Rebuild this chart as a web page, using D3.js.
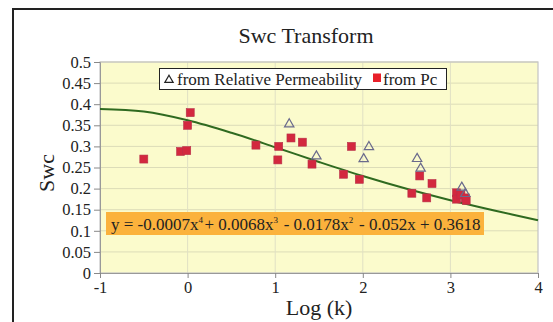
<!DOCTYPE html>
<html>
<head>
<meta charset="utf-8">
<script src="https://cdn.jsdelivr.net/npm/d3@7"></script>
<style>
  body { margin: 0; background: #fff; }
  svg text { font-family: "Liberation Serif", "DejaVu Serif", serif !important; fill: #222; }
</style>
</head>
<body>
<svg id="chart" width="553" height="322"></svg>
<script>
// data
const pcLogK = [-0.5, -0.08, -0.01, 0.0, 0.03, 0.78, 1.04, 1.03, 1.18, 1.31, 1.42, 1.78, 1.87, 1.96, 2.56, 2.65, 2.73, 2.79, 3.07, 3.07, 3.12, 3.17, 3.18];
const pcSwc   = [0.27, 0.288, 0.29, 0.35, 0.38, 0.303, 0.30, 0.268, 0.32, 0.31, 0.258, 0.234, 0.30, 0.222, 0.189, 0.23, 0.178, 0.212, 0.19, 0.175, 0.185, 0.178, 0.172];

const krLogK = [1.16, 1.47, 2.01, 2.07, 2.62, 2.66, 3.13, 3.17];
const krSwc  = [0.355, 0.279, 0.2725, 0.301, 0.273, 0.25, 0.205, 0.19];

// trendline
const trendX = [-1, -0.5, 0, 0.5, 1, 1.5, 2, 2.5, 3, 3.5, 4];
const trendY = [0.3885, 0.3825, 0.3618, 0.3322, 0.2981, 0.2632, 0.2298, 0.1995, 0.1725, 0.1483, 0.125];

const xTicks = [-1, 0, 1, 2, 3, 4];
const yTicks = [0, 0.05, 0.1, 0.15, 0.2, 0.25, 0.3, 0.35, 0.4, 0.45, 0.5];

const svg = d3.select("#chart");

// outer chart frame
svg.append("rect")
  .attr("x", 13).attr("y", 9)
  .attr("width", 560).attr("height", 330)
  .attr("fill", "#fff")
  .attr("stroke", "#222")
  .attr("stroke-width", 2);

const pLeft = 100, pRight = 538, pTop = 62, pBottom = 273;

const x = d3.scaleLinear().domain([-1, 4]).range([pLeft, pRight]);
const y = d3.scaleLinear().domain([0, 0.5]).range([pBottom, pTop]);

// plot area
svg.append("rect")
  .attr("x", pLeft).attr("y", pTop)
  .attr("width", pRight - pLeft).attr("height", pBottom - pTop)
  .attr("fill", "#fbfbcc");

// grid
svg.append("g")
  .selectAll("line")
  .data(yTicks.slice(1))
  .join("line")
  .attr("x1", pLeft).attr("x2", pRight)
  .attr("y1", d => y(d)).attr("y2", d => y(d))
  .attr("stroke", "#dcdcb8")
  .attr("stroke-width", 1);

svg.append("g")
  .selectAll("line")
  .data(xTicks.slice(1, -1))
  .join("line")
  .attr("x1", d => x(d)).attr("x2", d => x(d))
  .attr("y1", pTop).attr("y2", pBottom)
  .attr("stroke", "#e0e0c4")
  .attr("stroke-width", 1);

svg.append("rect")
  .attr("x", pLeft).attr("y", pTop)
  .attr("width", pRight - pLeft).attr("height", pBottom - pTop)
  .attr("fill", "none")
  .attr("stroke", "#c4c4c4")
  .attr("stroke-width", 1.2);

// axes
const fmt = d => String(d);
const yAxis = svg.append("g")
  .attr("transform", `translate(${pLeft},0)`)
  .call(d3.axisLeft(y).tickValues(yTicks).tickFormat(fmt).tickSize(6).tickPadding(3));
const xAxis = svg.append("g")
  .attr("transform", `translate(0,${pBottom})`)
  .call(d3.axisBottom(x).tickValues(xTicks).tickFormat(fmt).tickSize(5).tickPadding(3));

[yAxis, xAxis].forEach(a => {
  a.attr("font-family", null);
  a.select(".domain").attr("stroke", "#999");
  a.selectAll(".tick line").attr("stroke", "#888");
  a.selectAll(".tick text")
    .attr("font-size", 16.5)
    .attr("fill", "#222");
});
xAxis.selectAll(".tick text").attr("dy", "0.75em");

// trendline
const line = d3.line()
  .x((d, i) => x(trendX[i]))
  .y(d => y(d))
  .curve(d3.curveCatmullRom);

svg.append("path")
  .datum(trendY)
  .attr("d", line)
  .attr("fill", "none")
  .attr("stroke", "#2f6a20")
  .attr("stroke-width", 2);

// markers
const sq = 8;
svg.append("g")
  .selectAll("rect")
  .data(pcLogK.map((k, i) => [k, pcSwc[i]]))
  .join("rect")
  .attr("x", d => x(d[0]) - sq / 2)
  .attr("y", d => y(d[1]) - sq / 2)
  .attr("width", sq).attr("height", sq)
  .attr("fill", "#d3283e")
  .attr("stroke", "#b8304a")
  .attr("stroke-width", 0.6);

const tri = d3.symbol().type(d3.symbolTriangle).size(38);
svg.append("g")
  .selectAll("path")
  .data(krLogK.map((k, i) => [k, krSwc[i]]))
  .join("path")
  .attr("d", tri)
  .attr("transform", d => `translate(${x(d[0])},${y(d[1]) + 1})`)
  .attr("fill", "none")
  .attr("stroke", "#6a6a8c")
  .attr("stroke-width", 1.2);

// title and axis labels
svg.append("text")
  .attr("x", 306).attr("y", 43)
  .attr("text-anchor", "middle")
  .attr("font-size", 22)
  .text("Swc Transform");

svg.append("text")
  .attr("x", 319).attr("y", 315)
  .attr("text-anchor", "middle")
  .attr("font-size", 22)
  .text("Log (k)");

svg.append("text")
  .attr("transform", "translate(54,173) rotate(-90)")
  .attr("text-anchor", "middle")
  .attr("font-size", 22)
  .text("Swc");

// legend
const lg = svg.append("g");
lg.append("rect")
  .attr("x", 159.5).attr("y", 68.5)
  .attr("width", 287).attr("height", 21)
  .attr("fill", "#fff")
  .attr("stroke", "#222")
  .attr("stroke-width", 1);
lg.append("path")
  .attr("d", d3.symbol().type(d3.symbolTriangle).size(30))
  .attr("transform", "translate(169,80)")
  .attr("fill", "none")
  .attr("stroke", "#222")
  .attr("stroke-width", 1.2);
lg.append("text")
  .attr("x", 177).attr("y", 84.5)
  .attr("font-size", 17)
  .text("from Relative Permeability");
lg.append("rect")
  .attr("x", 373).attr("y", 73.5)
  .attr("width", 8).attr("height", 8.5)
  .attr("fill", "#e8202a");
lg.append("text")
  .attr("x", 383).attr("y", 84.5)
  .attr("font-size", 17)
  .text("from Pc");

// equation box
svg.append("rect")
  .attr("x", 106).attr("y", 212)
  .attr("width", 378).attr("height", 23)
  .attr("fill", "#fbb23c");

const eq = svg.append("text")
  .attr("x", 111).attr("y", 230)
  .attr("font-size", 17)
  .attr("fill", "#333");
const parts = [
  ["y = -0.0007x", "4"],
  ["+ 0.0068x", "3"],
  [" - 0.0178x", "2"],
  [" - 0.052x + 0.3618", null]
];
parts.forEach(p => {
  eq.append("tspan").attr("font-size", 17).text(p[0]);
  if (p[1]) {
    eq.append("tspan").attr("font-size", 9).attr("dy", -7).text(p[1]);
    eq.append("tspan").attr("font-size", 17).attr("dy", 7).text("\u200a");
  }
});
</script>
</body>
</html>
